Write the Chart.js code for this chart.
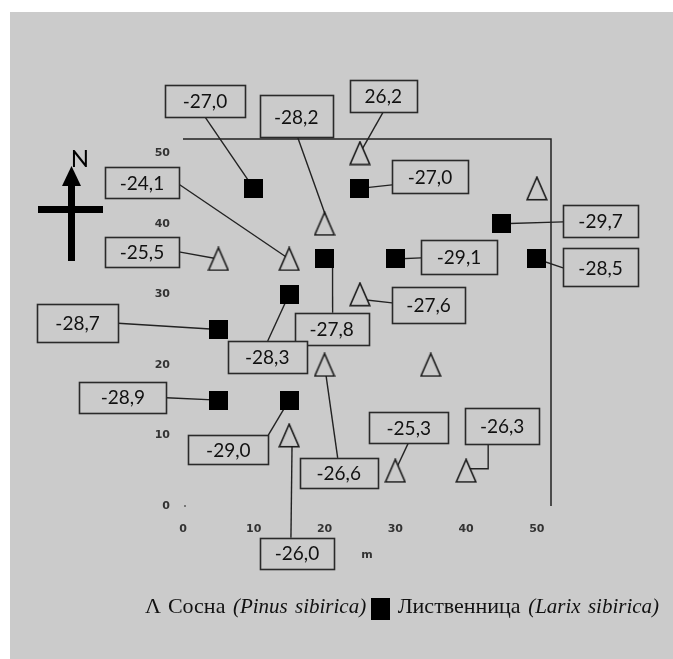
<!DOCTYPE html>
<html>
<head>
<meta charset="utf-8">
<script src="https://cdn.jsdelivr.net/npm/chart.js@4"></script>
<style>
  body { margin: 0; background: #fff; }
  #bg { position: absolute; left: 10px; top: 12px; right: 0; bottom: 0; background: #cbcbcb; }
  #wrap { position: absolute; left: 0; top: 0; width: 673px; height: 659px; }
  #legend { position: absolute; left: 145px; top: 595px; font-family: "Liberation Serif", serif; font-size: 22px; line-height: 22px; color: #111; white-space: nowrap; word-spacing: 2px; }
  #legend i { font-size: 21px; }
  #legend .sq { display: inline-block; width: 19px; height: 22px; background: #000; vertical-align: -7px; margin-left: 5px; }
</style>
</head>
<body>
<div id="bg"></div>
<div id="wrap"><canvas id="myScatter" width="673" height="659"></canvas></div>
<div id="legend"></div>
<script>
// sample points, metres
var pineX = [25, 20, 5, 15, 50, 25, 20, 35, 15, 30, 40];
var pineY = [50, 40, 35, 35, 45, 30, 20, 20, 10, 5, 5];
var pineLabels = ['26,2', '-28,2', '-25,5', '-24,1', null, '-27,6', '-26,6', null, '-26,0', '-25,3', '-26,3'];

var larchX = [10, 25, 45, 30, 50, 20, 15, 5, 5, 15];
var larchY = [45, 45, 40, 35, 35, 35, 30, 25, 15, 15];
var larchLabels = ['-27,0', '-27,0', '-29,7', '-29,1', '-28,5', '-27,8', '-28,3', '-28,7', '-28,9', '-29,0'];

var xTicks = [0, 10, 20, 30, 40, 50];
var yTicks = [0, 10, 20, 30, 40, 50];
var seriesNames = ['Сосна', 'Лиственница'];
var latinNames = ['(Pinus sibirica)', '(Larix sibirica)'];
var axisTitle = 'm';
var northLabel = 'N';

// callout boxes: centre in axis units, size and leader anchors in px
var pineCallouts = [
    { bx: 28.3, by: 58.1, w: 67, h: 32, from: [0, 16] },
    { bx: 16.0, by: 55.2, w: 73, h: 42, from: [1.5, 21], to: [4, 0] },
    { bx: -5.8, by: 36.0, w: 74, h: 30, from: [37, 0] },
    { bx: -5.8, by: 45.8, w: 74, h: 31, from: [37, 1.5] },
    null,
    { bx: 34.7, by: 28.5, w: 73, h: 36, from: [-36.5, -2], to: [0, 5] },
    { bx: 22.0, by: 4.7, w: 78, h: 30, from: [-1, -15] },
    null,
    { bx: 16.1, by: -6.7, w: 74, h: 31, from: [-6, -15.5], to: [3, 0] },
    { bx: 31.9, by: 11.1, w: 79, h: 31, from: [-0.5, 15.5] },
    { bx: 45.1, by: 11.3, w: 74, h: 36, from: [-14, 18], to: [0, -2], elbow: true }
];
var larchCallouts = [
    { bx: 3.1, by: 57.4, w: 80, h: 32, from: [0, 16] },
    { bx: 34.9, by: 46.7, w: 76, h: 33, from: [-38, 8.5] },
    { bx: 59.0, by: 40.4, w: 75, h: 32, from: [-37.5, 1] },
    { bx: 39.0, by: 35.3, w: 76, h: 34, from: [-38, 1] },
    { bx: 59.0, by: 33.8, w: 75, h: 38, from: [-37.5, 0.5] },
    { bx: 21.0, by: 25.1, w: 74, h: 32, from: [1, -16], to: [8, 0] },
    { bx: 11.9, by: 21.1, w: 79, h: 32, from: [0.5, -16] },
    { bx: -14.9, by: 25.9, w: 81, h: 38, from: [40.5, 0] },
    { bx: -8.5, by: 15.4, w: 87, h: 31, from: [43.5, 0.5] },
    { bx: 6.4, by: 8.0, w: 80, h: 29, from: [40, -14.5] }
];

var bgGrey = '#cbcbcb';

function makeTriangle() {
    var c = document.createElement('canvas');
    c.width = 22; c.height = 25;
    var g = c.getContext('2d');
    g.beginPath();
    g.moveTo(11, 1.2);
    g.lineTo(1.2, 23.8);
    g.lineTo(20.8, 23.8);
    g.closePath();
    g.fillStyle = bgGrey;
    g.fill();
    g.lineWidth = 1.6;
    g.strokeStyle = '#1a1a1a';
    g.stroke();
    return c;
}
function makeSquare() {
    var c = document.createElement('canvas');
    c.width = 19; c.height = 19;
    var g = c.getContext('2d');
    g.fillStyle = '#000';
    g.fillRect(0, 0, 19, 19);
    return c;
}

function toPoints(xs, ys) {
    return xs.map(function (x, i) { return { x: x, y: ys[i] }; });
}

function leaderPath(chart, xs, ys, callouts) {
    var sx = chart.scales.x, sy = chart.scales.y, ctx = chart.ctx;
    callouts.forEach(function (c, i) {
        if (!c) return;
        var cx = sx.getPixelForValue(c.bx), cy = sy.getPixelForValue(c.by);
        var to = c.to || [0, 0];
        var px = sx.getPixelForValue(xs[i]) + to[0], py = sy.getPixelForValue(ys[i]) + to[1];
        var x0 = cx + c.from[0], y0 = cy + c.from[1];
        ctx.beginPath();
        ctx.moveTo(x0, y0);
        if (c.elbow) ctx.lineTo(x0, py);
        ctx.lineTo(px, py);
        ctx.stroke();
    });
}

function drawBoxes(chart, labels, callouts) {
    var sx = chart.scales.x, sy = chart.scales.y, ctx = chart.ctx;
    callouts.forEach(function (c, i) {
        if (!c) return;
        var cx = sx.getPixelForValue(c.bx), cy = sy.getPixelForValue(c.by);
        var l = Math.round(cx - c.w / 2) + 0.5, t = Math.round(cy - c.h / 2) + 0.5;
        ctx.fillStyle = bgGrey;
        ctx.fillRect(l, t, c.w, c.h);
        ctx.lineWidth = 1.6;
        ctx.strokeStyle = '#2a2a2a';
        ctx.strokeRect(l, t, c.w, c.h);
        ctx.fillStyle = '#111';
        ctx.font = '19px Lato';
        ctx.textAlign = 'center';
        ctx.textBaseline = 'middle';
        ctx.fillText(labels[i], cx, cy + 1);
    });
}

var extras = {
    id: 'extras',
    beforeDatasetsDraw: function (chart) {
        var ctx = chart.ctx, sx = chart.scales.x, sy = chart.scales.y;
        ctx.save();
        // plot frame: top and right edges only
        ctx.strokeStyle = '#222';
        ctx.lineWidth = 1.5;
        ctx.beginPath();
        ctx.moveTo(sx.getPixelForValue(0), sy.getPixelForValue(52));
        ctx.lineTo(sx.getPixelForValue(52), sy.getPixelForValue(52));
        ctx.lineTo(sx.getPixelForValue(52), sy.getPixelForValue(0));
        ctx.stroke();
        // origin dot
        ctx.fillStyle = '#777';
        ctx.fillRect(sx.getPixelForValue(0) + 1, sy.getPixelForValue(0) - 1, 2, 2);
        // leader lines
        ctx.strokeStyle = '#222';
        ctx.lineWidth = 1.4;
        leaderPath(chart, pineX, pineY, pineCallouts);
        leaderPath(chart, larchX, larchY, larchCallouts);

        // north arrow
        ctx.fillStyle = '#000';
        ctx.fillRect(68, 182, 7, 79);
        ctx.fillRect(38, 206, 65, 7);
        ctx.beginPath();
        ctx.moveTo(71.5, 166);
        ctx.lineTo(62, 186);
        ctx.lineTo(81, 186);
        ctx.closePath();
        ctx.fill();
        ctx.font = '24px Lato';
        ctx.textAlign = 'center';
        ctx.textBaseline = 'middle';
        ctx.fillText(northLabel, 80, 159);

        // axis title
        ctx.font = 'bold 11px "DejaVu Sans"';
        ctx.fillStyle = '#333';
        ctx.fillText(axisTitle, sx.getPixelForValue(26), sy.getPixelForValue(0) + 49);
        ctx.restore();
    },
    afterDatasetsDraw: function (chart) {
        var ctx = chart.ctx;
        ctx.save();
        drawBoxes(chart, pineLabels, pineCallouts);
        drawBoxes(chart, larchLabels, larchCallouts);
        ctx.restore();
    }
};

var tickFont = { family: 'DejaVu Sans', size: 11, weight: 'bold' };

var ctx = document.getElementById('myScatter').getContext('2d');
var myScatter = new Chart(ctx, {
    type: 'scatter',
    data: {
        datasets: [{
            label: seriesNames[0],
            data: toPoints(pineX, pineY),
            pointStyle: makeTriangle()
        }, {
            label: seriesNames[1],
            data: toPoints(larchX, larchY),
            pointStyle: makeSquare()
        }]
    },
    options: {
        responsive: false,
        animation: false,
        layout: { padding: { left: 0, top: 139, right: 122, bottom: 113 } },
        plugins: { legend: { display: false }, tooltip: { enabled: false } },
        scales: {
            x: {
                type: 'linear', min: 0, max: 52,
                grid: { display: false, drawTicks: false },
                border: { display: false },
                afterFit: function (s) { s.height = 40; },
                afterBuildTicks: function (s) { s.ticks = xTicks.map(function (v) { return { value: v }; }); },
                ticks: { padding: 17, color: '#333', font: tickFont }
            },
            y: {
                type: 'linear', min: 0, max: 52,
                grid: { display: false, drawTicks: false },
                border: { display: false },
                afterFit: function (s) { s.width = 183; },
                afterBuildTicks: function (s) { s.ticks = yTicks.map(function (v) { return { value: v }; }); },
                ticks: { padding: 13, color: '#333', font: tickFont }
            }
        }
    },
    plugins: [extras]
});

document.getElementById('legend').innerHTML =
    '\u039B ' + seriesNames[0] + ' <i>' + latinNames[0] + '</i><span class="sq"></span> ' +
    seriesNames[1] + ' <i>' + latinNames[1] + '</i>';
</script>
</body>
</html>
